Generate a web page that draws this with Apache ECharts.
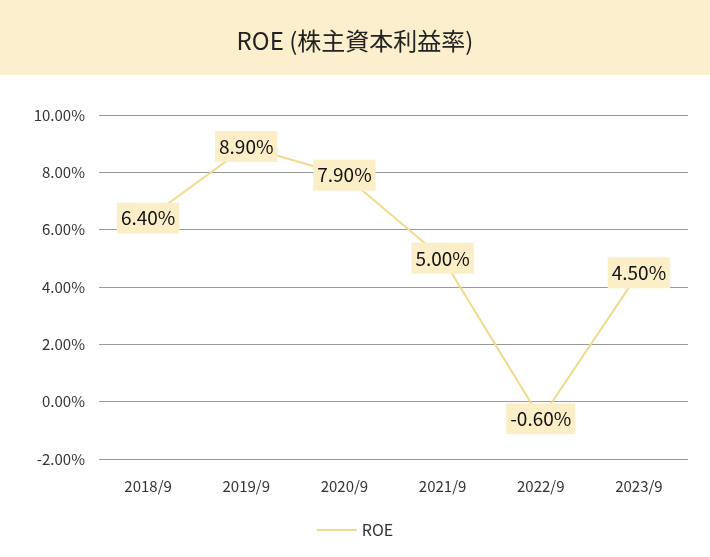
<!DOCTYPE html>
<html>
<head>
<meta charset="utf-8">
<script src="https://cdn.jsdelivr.net/npm/echarts@6/dist/echarts.min.js"></script>
<style>html,body{margin:0;padding:0;background:#fff}#chart{width:710px;height:557px}</style>
</head>
<body>
<div id="chart"></div>
<script>
var categories = ['2018/9', '2019/9', '2020/9', '2021/9', '2022/9', '2023/9'];
var roeValues = [6.4, 8.9, 7.9, 5.0, -0.6, 4.5];
var seriesName = 'ROE';

var myChart = echarts.init(document.getElementById('chart'));
var font = '"Noto Sans CJK JP", "Noto Sans", sans-serif';
var option = {
    textStyle: {fontFamily: font},
    graphic: [{
        type: 'rect',
        shape: {x: 0, y: 0, width: 710, height: 75},
        style: {fill: '#fcefcd'},
        z: 0
    }],
    title: {
        text: 'ROE (株主資本利益率)',
        left: 'center',
        top: 24,
        textStyle: {fontSize: 24, fontWeight: 'normal', color: '#222', fontFamily: font}
    },
    legend: {
        bottom: 14,
        itemWidth: 40,
        icon: 'path://M0,0 L40,0 L40,2 L0,2 Z',
        textStyle: {fontSize: 16, color: '#333'},
        data: [seriesName]
    },
    grid: {left: 99, right: 22, top: 115, bottom: 98},
    xAxis: {
        type: 'category',
        data: categories,
        axisLine: {show: false},
        axisTick: {show: false},
        axisLabel: {fontSize: 15, color: '#333', margin: 20}
    },
    yAxis: {
        type: 'value',
        min: -2, max: 10, interval: 2,
        axisLabel: {fontSize: 15, color: '#333', margin: 14,
            formatter: function (v) { return v.toFixed(2) + '%'; }},
        splitLine: {lineStyle: {color: '#999', width: 1.2}}
    },
    series: [{
        name: seriesName,
        type: 'line',
        data: roeValues,
        symbol: 'circle',
        symbolSize: 1,
        showSymbol: true,
        lineStyle: {color: '#f2d98c', width: 2},
        itemStyle: {color: '#f2d98c'},
        label: {
            show: true,
            position: 'inside',
            fontSize: 19,
            color: '#111',
            backgroundColor: '#fcefc8',
            padding: [6, 4],
            formatter: function (p) { return p.value.toFixed(2) + '%'; }
        }
    }]
};
myChart.setOption(option);
</script>
</body>
</html>
